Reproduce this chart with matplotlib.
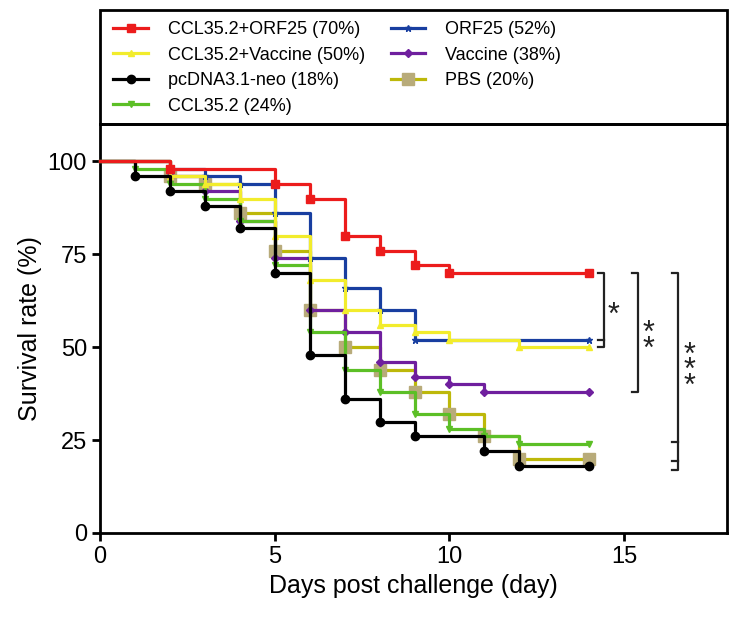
import matplotlib.pyplot as plt
from matplotlib.patches import Rectangle

plt.rcParams['font.family'] = ['Liberation Sans', 'DejaVu Sans']

# survival curves: days where a drop happens and the value after it
red_t = [0, 2, 5, 6, 7, 8, 9, 10, 14]
red_v = [100, 98, 94, 90, 80, 76, 72, 70, 70]

yellow_t = [0, 2, 3, 4, 5, 6, 7, 8, 9, 10, 12, 14]
yellow_v = [100, 96, 94, 90, 80, 68, 60, 56, 54, 52, 50, 50]

black_t = [0, 1, 2, 3, 4, 5, 6, 7, 8, 9, 11, 12, 14]
black_v = [100, 96, 92, 88, 82, 70, 48, 36, 30, 26, 22, 18, 18]

green_t = [0, 1, 2, 3, 4, 5, 6, 7, 8, 9, 10, 11, 12, 14]
green_v = [100, 98, 94, 90, 84, 72, 54, 44, 38, 32, 28, 26, 24, 24]

blue_t = [0, 2, 3, 4, 5, 6, 7, 8, 9, 14]
blue_v = [100, 98, 96, 94, 86, 74, 66, 60, 52, 52]

purple_t = [0, 2, 3, 4, 5, 6, 7, 8, 9, 10, 11, 14]
purple_v = [100, 96, 92, 84, 74, 60, 54, 46, 42, 40, 38, 38]

pbs_t = [0, 2, 3, 4, 5, 6, 7, 8, 9, 10, 11, 12, 14]
pbs_v = [100, 96, 94, 86, 76, 60, 50, 44, 38, 32, 26, 20, 20]

labels = ["CCL35.2+ORF25 (70%)", "CCL35.2+Vaccine (50%)", "pcDNA3.1-neo (18%)",
          "CCL35.2 (24%)", "ORF25 (52%)", "Vaccine (38%)", "PBS (20%)"]

fig = plt.figure(figsize=(7.36, 6.23), dpi=100)
ax = fig.add_axes([0.136, 0.1445, 0.852, 0.656])

def km(t, v, color, marker, ms, mfc=None, z=2):
    ax.step(t, v, where='post', color=color, lw=2.3, zorder=z, clip_on=False)
    ax.plot(t[1:], v[1:], linestyle='none', marker=marker, ms=ms, color=mfc or color,
            mec=mfc or color, zorder=z, clip_on=False)
    # proxy for legend
    h, = ax.plot([], [], color=color, lw=2.3, marker=marker, ms=ms,
                 mfc=mfc or color, mec=mfc or color)
    return h

h_pbs = km(pbs_t, pbs_v, '#bdb80a', 's', 8, mfc='#b8ab7a', z=2)
h_pur = km(purple_t, purple_v, '#6f1f9e', 'D', 4, z=3)
h_grn = km(green_t, green_v, '#5cbf26', 'v', 5, z=4)
h_blu = km(blue_t, blue_v, '#183ea0', '*', 5, z=5)
h_yel = km(yellow_t, yellow_v, '#f2ec2c', '^', 5, z=6)
h_blk = km(black_t, black_v, 'black', 'o', 6, z=7)
h_red = km(red_t, red_v, '#ec1c1c', 's', 6, z=8)

# legend box sits on top of the axes
box_h = 0.279
ax.add_patch(Rectangle((0, 1), 1, box_h, transform=ax.transAxes, fill=False,
                       edgecolor='black', lw=2, clip_on=False))
handles = [h_red, h_yel, h_blk, h_grn, h_blu, h_pur, h_pbs]
leg = ax.legend(handles, labels, ncol=2, loc='upper left', bbox_to_anchor=(0.004, 1 + box_h),
                borderaxespad=0, fontsize=13, frameon=False, handlelength=1.9,
                handletextpad=1.1, columnspacing=1.45, labelspacing=0.47,
                borderpad=0.6, numpoints=1)

# significance brackets
def bracket(x, ytop, ybot, ticks, stars, xs, ys):
    ax.plot([x - 0.17, x, x, x - 0.17], [ytop, ytop, ybot, ybot], color='#222222', lw=1.6, clip_on=False)
    for yy in ticks:
        ax.plot([x - 0.17, x], [yy, yy], color='#222222', lw=1.6, clip_on=False)
    ax.text(xs, ys, "\n".join(stars), fontsize=22, ha='center', va='center', linespacing=0.38,
            color='#222222')

bracket(14.42, 70, 50, [52], '*', 14.7, 58.5)
bracket(15.4, 70, 38, [], '**', 15.7, 51.5)
bracket(16.55, 70, 17, [24.5, 19.5], '***', 16.86, 43.5)

ax.set_xlim(0, 17.95)
ax.set_ylim(0, 110)
ax.set_xticks([0, 5, 10, 15])
ax.set_yticks([0, 25, 50, 75, 100])
ax.tick_params(labelsize=17, width=2, length=6, color='black')
for s in ax.spines.values():
    s.set_linewidth(2)
ax.set_xlabel("Days post challenge (day)", fontsize=18)
ax.set_ylabel("Survival rate (%)", fontsize=18)

plt.savefig("out.png", dpi=100)
